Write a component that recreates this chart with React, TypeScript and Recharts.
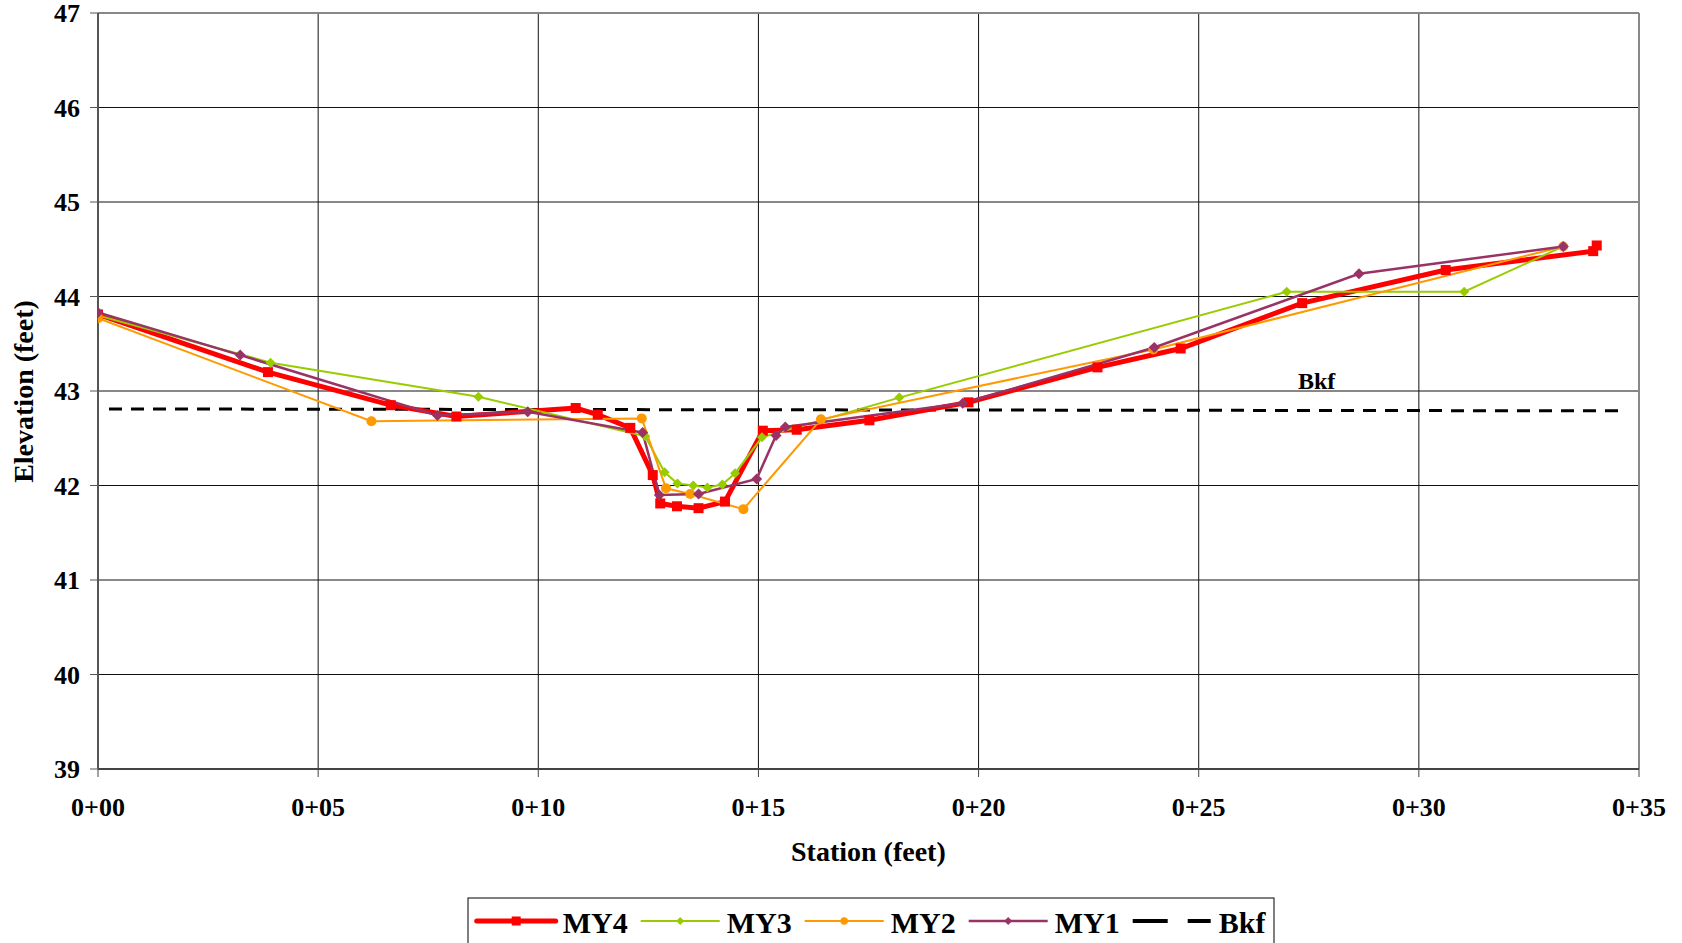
import { CartesianGrid, Line, LineChart, ReferenceLine, XAxis, YAxis } from "recharts"

// Cross-section survey: station along the section vs. elevation, feet
const my4Station = [0, 3.86, 6.65, 8.14, 10.85, 11.35, 12.09, 12.6, 12.77, 13.15, 13.64, 14.24, 15.1, 15.87, 17.52, 19.77, 22.7, 24.59, 27.35, 30.61, 33.96, 34.04]
const my4Elev = [43.81, 43.2, 42.85, 42.73, 42.82, 42.75, 42.61, 42.11, 41.81, 41.78, 41.76, 41.83, 42.58, 42.59, 42.69, 42.88, 43.25, 43.45, 43.93, 44.28, 44.48, 44.54]

const my3Station = [0, 3.92, 8.64, 12.43, 12.87, 13.16, 13.52, 13.84, 14.18, 14.47, 15.08, 18.2, 27.0, 31.03, 33.28]
const my3Elev = [43.8, 43.3, 42.94, 42.52, 42.14, 42.02, 42.0, 41.98, 42.01, 42.13, 42.51, 42.93, 44.05, 44.05, 44.53]

const my2Station = [0, 6.21, 12.35, 12.9, 13.45, 14.66, 16.42, 23.97, 33.28]
const my2Elev = [43.77, 42.68, 42.71, 41.97, 41.91, 41.75, 42.7, 43.44, 44.53]

const my1Station = [0, 3.23, 7.71, 9.76, 12.37, 12.75, 13.64, 14.96, 15.4, 15.61, 19.64, 23.99, 28.64, 33.28]
const my1Elev = [43.83, 43.38, 42.74, 42.78, 42.56, 41.9, 41.91, 42.07, 42.53, 42.62, 42.87, 43.46, 44.24, 44.53]

// bankfull line
const bkfStation = [0.25, 34.72]
const bkfElev = [42.81, 42.79]

const stationTicks = [0, 5, 10, 15, 20, 25, 30, 35]
const elevTicks = [39, 40, 41, 42, 43, 44, 45, 46, 47]
const legendNames = ["MY4", "MY3", "MY2", "MY1", "Bkf"]

const RED = "#FF0000"
const GREEN = "#99CC00"
const ORANGE = "#FF9900"
const PURPLE = "#993366"
const FONT = "'Liberation Serif', 'Times New Roman', serif"

const W = 1682
const H = 943

const toPoints = (xs: number[], ys: number[]) => xs.map((x, i) => ({ x, y: ys[i] }))

const my4 = toPoints(my4Station, my4Elev)
const my3 = toPoints(my3Station, my3Elev)
const my2 = toPoints(my2Station, my2Elev)
const my1 = toPoints(my1Station, my1Elev)
const bkf = toPoints(bkfStation, bkfElev)

const fmtStation = (v: number) => `0+${String(v).padStart(2, "0")}`

const squareDot = (size: number, color: string) => (p: any) => (
  <rect key={`sq-${p.index}`} x={p.cx - size / 2} y={p.cy - size / 2} width={size} height={size} fill={color} />
)

const diamondDot = (s: number, color: string) => (p: any) => (
  <polygon
    key={`dm-${p.index}`}
    points={`${p.cx},${p.cy - s} ${p.cx + s},${p.cy} ${p.cx},${p.cy + s} ${p.cx - s},${p.cy}`}
    fill={color}
  />
)

function StationTick({ x, y, payload }: any) {
  return (
    <text x={x} y={y} dy="0.71em" textAnchor="middle" style={{ fontFamily: FONT, fontWeight: "bold", fontSize: 26 }} fill="#000">
      {fmtStation(payload.value)}
    </text>
  )
}

function ElevTick({ x, y, payload }: any) {
  return (
    <text x={x} y={y} dy="0.355em" textAnchor="end" style={{ fontFamily: FONT, fontWeight: "bold", fontSize: 26 }} fill="#000">
      {payload.value}
    </text>
  )
}

function LegendBox() {
  // items laid out left to right inside a bordered box
  const startX = 476.7
  const step = 164
  const lineLen = 79
  const y = 921
  return (
    <g>
      <rect x={468} y={898} width={806} height={70} fill="#fff" stroke="#000" strokeWidth={1} />
      {legendNames.map((name, i) => {
        const x0 = startX + i * step
        const cx = x0 + lineLen / 2
        let sample = null
        if (name === "MY4") {
          sample = (
            <g>
              <line x1={x0} y1={y} x2={x0 + lineLen} y2={y} stroke={RED} strokeWidth={5} strokeLinecap="round" />
              <rect x={cx - 4.5} y={y - 4.5} width={9} height={9} fill={RED} />
            </g>
          )
        } else if (name === "MY3") {
          sample = (
            <g>
              <line x1={x0} y1={y} x2={x0 + lineLen} y2={y} stroke={GREEN} strokeWidth={2} />
              <polygon points={`${cx},${y - 4} ${cx + 4},${y} ${cx},${y + 4} ${cx - 4},${y}`} fill={GREEN} />
            </g>
          )
        } else if (name === "MY2") {
          sample = (
            <g>
              <line x1={x0} y1={y} x2={x0 + lineLen} y2={y} stroke={ORANGE} strokeWidth={2} />
              <circle cx={cx} cy={y} r={3.8} fill={ORANGE} />
            </g>
          )
        } else if (name === "MY1") {
          sample = (
            <g>
              <line x1={x0} y1={y} x2={x0 + lineLen} y2={y} stroke={PURPLE} strokeWidth={2.5} />
              <polygon points={`${cx},${y - 4} ${cx + 4},${y} ${cx},${y + 4} ${cx - 4},${y}`} fill={PURPLE} />
            </g>
          )
        } else {
          sample = (
            <g>
              <line x1={x0} y1={y} x2={x0 + 35} y2={y} stroke="#000" strokeWidth={4} />
              <line x1={x0 + 55} y1={y} x2={x0 + lineLen - 1} y2={y} stroke="#000" strokeWidth={4} />
            </g>
          )
        }
        return (
          <g key={name}>
            {sample}
            <text x={x0 + 86} y={933.3} fontFamily={FONT} fontWeight="bold" fontSize={30} fill="#000">
              {name}
            </text>
          </g>
        )
      })}
    </g>
  )
}

export default function App() {
  return (
    <div style={{ position: "absolute", left: 0, top: 0, width: W, height: H, overflow: "hidden", background: "#fff" }}>
      <LineChart width={W} height={H} margin={{ top: 13, right: 43, bottom: 114, left: 38 }}>
        <CartesianGrid stroke="#111" strokeWidth={1} horizontal={{ stroke: "#777" }} />
        <XAxis
          dataKey="x"
          type="number"
          domain={[0, 35]}
          ticks={stationTicks}
          interval={0}
          tickSize={8}
          tickMargin={21}
          height={60}
          tick={<StationTick />}
          axisLine={{ stroke: "#444", strokeWidth: 2 }}
          tickLine={{ stroke: "#444" }}
          allowDataOverflow
        />
        <YAxis
          type="number"
          domain={[39, 47]}
          ticks={elevTicks}
          interval={0}
          tickSize={8}
          tickMargin={10}
          width={60}
          tick={<ElevTick />}
          axisLine={{ stroke: "#555", strokeWidth: 2 }}
          tickLine={{ stroke: "#555" }}
          allowDataOverflow
        />
        <ReferenceLine x={35} stroke="#888" strokeWidth={2} />
        <ReferenceLine y={47} stroke="#888" strokeWidth={2} />
        <Line
          data={bkf}
          dataKey="y"
          type="linear"
          stroke="#000"
          strokeWidth={3}
          strokeDasharray="13 9"
          dot={false}
          activeDot={false}
          isAnimationActive={false}
        />
        <Line
          data={my4}
          dataKey="y"
          type="linear"
          stroke={RED}
          strokeWidth={5}
          dot={squareDot(10, RED)}
          activeDot={false}
          isAnimationActive={false}
        />
        <Line
          data={my3}
          dataKey="y"
          type="linear"
          stroke={GREEN}
          strokeWidth={2}
          dot={diamondDot(5, GREEN)}
          activeDot={false}
          isAnimationActive={false}
        />
        <Line
          data={my2}
          dataKey="y"
          type="linear"
          stroke={ORANGE}
          strokeWidth={2}
          dot={{ r: 5, fill: ORANGE, stroke: ORANGE, strokeWidth: 0 }}
          activeDot={false}
          isAnimationActive={false}
        />
        <Line
          data={my1}
          dataKey="y"
          type="linear"
          stroke={PURPLE}
          strokeWidth={2.5}
          dot={diamondDot(5.5, PURPLE)}
          activeDot={false}
          isAnimationActive={false}
        />
      </LineChart>
      <svg width={W} height={H} style={{ position: "absolute", left: 0, top: 0, pointerEvents: "none" }}>
        <text
          transform="translate(32.5, 391.5) rotate(-90)"
          textAnchor="middle"
          fontFamily={FONT}
          fontWeight="bold"
          fontSize={28}
          fill="#000"
        >
          Elevation (feet)
        </text>
        <text x={868.4} y={861} textAnchor="middle" fontFamily={FONT} fontWeight="bold" fontSize={28} fill="#000">
          Station (feet)
        </text>
        <text x={1316.6} y={389.3} textAnchor="middle" fontFamily={FONT} fontWeight="bold" fontSize={24} fill="#000">
          Bkf
        </text>
        <LegendBox />
      </svg>
    </div>
  )
}
